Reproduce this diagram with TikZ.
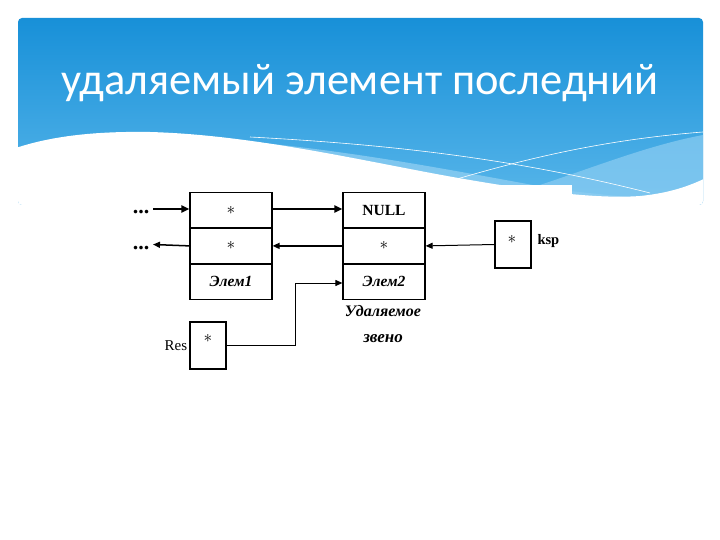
\documentclass[tikz,border=0pt]{standalone}
\usepackage{fontspec}
\setmainfont{Liberation Serif}
\newfontfamily\titlefont{Carlito}
\usetikzlibrary{arrows.meta}
\definecolor{bannertop}{RGB}{24,144,216}
\definecolor{bannerbot}{RGB}{88,182,234}
\definecolor{swoosh}{RGB}{140,205,242}
\newcommand{\st}{\raisebox{0pt}{$\ast$}}
\tikzset{
  cell/.style={draw, line width=1.2pt, minimum width=82pt, minimum height=34.7pt, inner sep=0pt, font=\fontsize{18}{18}\selectfont},
  smallbox/.style={draw, line width=1.2pt, minimum width=36pt, minimum height=47pt, inner sep=0pt},
  conn/.style={-{Triangle[length=7pt,width=6pt]}, line width=1pt},
  thickconn/.style={-{Triangle[length=8pt,width=7pt]}, line width=2pt},
  lbl/.style={font=\fontsize{15}{15}\selectfont},
  itlbl/.style={font=\fontsize{16}{16}\selectfont\bfseries\itshape},
  dotsty/.style={font=\fontsize{22}{22}\selectfont\bfseries, anchor=base},
}
\begin{document}
\begin{tikzpicture}[x=1pt,y=-1pt]
\useasboundingbox (0,0) rectangle (720,540);
\fill[white] (0,0) rectangle (720,540);
% banner
\begin{scope}
\clip[rounded corners=4pt] (18,18) rectangle (703,205);
\shade[top color=bannertop, bottom color=bannerbot] (18,18) rectangle (703,205);
\fill[swoosh, opacity=0.8] (230,140) .. controls (350,150) and (450,170) .. (560,190) -- (703,205) -- (560,205) -- cycle;
\fill[swoosh, opacity=0.7] (540,185) .. controls (600,165) and (650,145) .. (703,135) -- (703,205) -- (540,205) -- cycle;
\draw[white, line width=0.6pt] (250,137) .. controls (400,145) and (520,160) .. (650,193);
\draw[white, line width=0.6pt] (440,184) .. controls (520,160) and (600,140) .. (703,132);
\fill[white] (0,154) .. controls (40,137) and (90,131) .. (150,132) .. controls (260,135) and (380,165) .. (470,180) .. controls (540,192) and (600,199) .. (640,196) .. controls (670,193) and (690,186) .. (710,176) -- (720,540) -- (0,540) -- cycle;
\end{scope}
\fill[white] (110,185) rectangle (572,380);
\node[text=white, font=\titlefont\fontsize{44.5}{45}\selectfont, anchor=base] (title) at (360,95) {удаляемый элемент последний};
% diagram
\node[cell] (e1a) at (231,210) {\st};
\node[cell, anchor=north] (e1b) at (e1a.south) {\st};
\node[cell, anchor=north, font=\fontsize{15.5}{15.5}\selectfont\bfseries\itshape] (e1c) at (e1b.south) {Элем1};
\node[cell, font=\fontsize{15.5}{15.5}\selectfont\bfseries] (e2a) at (384,210) {NULL};
\node[cell, anchor=north] (e2b) at (e2a.south) {\st};
\node[cell, anchor=north, font=\fontsize{15.5}{15.5}\selectfont\bfseries\itshape] (e2c) at (e2b.south) {Элем2};
\node[smallbox] (res) at (208,345.5) {};
\node[font=\fontsize{18}{18}\selectfont] (resstar) at (208,338) {\st};
\node[lbl, anchor=east, inner sep=2pt] (reslbl) at (res.west) {Res};
\node[smallbox] (ksp) at (513,244.5) {};
\node[font=\fontsize{18}{18}\selectfont] (kspstar) at (512,239) {\st};
\node[font=\fontsize{14.5}{14.5}\selectfont\bfseries, anchor=west] (ksplbl) at (534,241) {ksp};
\node[dotsty] (dots1) at (141,214) {...};
\node[dotsty] (dots2) at (141,249) {...};
\node[itlbl] (del1) at (383,311) {Удаляемое};
\node[itlbl, font=\fontsize{17}{17}\selectfont\bfseries\itshape] (del2) at (383,339) {звено};
% connectors
\draw[thickconn] (153,209) -- (e1a.west |- 0,209);
\draw[thickconn] (e1a.east |- 0,209) -- (e2a.west |- 0,209);
\draw[conn, line width=1.5pt] (e2b.west) -- (e1b.east);
\draw[conn, line width=1.5pt] (e1b.west) -- (153,244.5);
\draw[conn] (ksp.west) -- (e2b.east);
\coordinate (bend) at (295,345.5);
\draw[conn] (res.east) -- (bend) -- (295,283) -- (e2c.west |- 0,283);
\end{tikzpicture}
\end{document}
